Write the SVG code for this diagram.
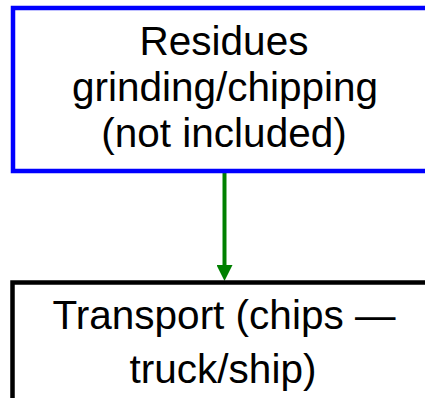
<svg xmlns="http://www.w3.org/2000/svg" width="425" height="398" viewBox="0 0 425 398">
<style>
.lbl{font-family:"Liberation Sans",Arial,sans-serif;font-size:40.5px;fill:#000;text-anchor:middle}
</style>
<defs>
<marker id="ah" markerUnits="userSpaceOnUse" markerWidth="16" markerHeight="16" refX="10" refY="8" orient="auto" viewBox="0 0 16 16">
<path d="M0,0 L16,8 L0,16 z" fill="#008000"/>
</marker>
</defs>
<rect width="425" height="398" fill="#fff"/>
<g id="connectors">
<line x1="224.5" y1="173" x2="224.5" y2="275" stroke="#008000" stroke-width="4" marker-end="url(#ah)"/>
</g>
<g id="node-residues">
<rect x="13" y="8" width="430" height="163" fill="#fff" stroke="#0000ff" stroke-width="4.5"/>
<text class="lbl" x="224" y="55">Residues</text>
<text class="lbl" x="225" y="101">grinding/chipping</text>
<text class="lbl" x="224" y="147">(not included)</text>
</g>
<g id="node-transport">
<rect x="12.5" y="282.5" width="430" height="200" fill="#fff" stroke="#000" stroke-width="4.5"/>
<text class="lbl" x="224" y="329">Transport (chips —</text>
<text class="lbl" x="223" y="383">truck/ship)</text>
</g>
</svg>
